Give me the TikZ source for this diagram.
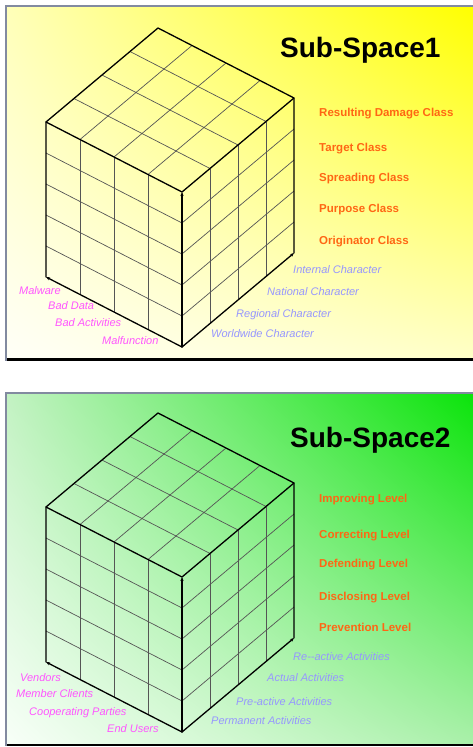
\documentclass[tikz,border=0pt]{standalone}
\usepackage{fontspec}
\setmainfont{Liberation Sans}
\usetikzlibrary{arrows.meta,shadings,calc}
\definecolor{orng}{RGB}{255,102,20}
\definecolor{lav}{RGB}{150,150,255}
\definecolor{pinkm}{RGB}{255,85,255}
\definecolor{framegray}{RGB}{130,138,160}
\definecolor{gridgray}{RGB}{85,85,85}
\definecolor{yUL}{RGB}{255,255,185}
\definecolor{yUR}{RGB}{255,255,0}
\definecolor{yLL}{RGB}{255,255,248}
\definecolor{yLR}{RGB}{255,255,200}
\definecolor{gUL}{RGB}{195,242,195}
\definecolor{gUR}{RGB}{10,228,10}
\definecolor{gLL}{RGB}{248,255,248}
\definecolor{gLR}{RGB}{170,240,170}
\begin{document}
\begin{tikzpicture}[x=1pt,y=-1pt,
  edge/.style={line width=1.3pt, black, line join=round, line cap=round},
  axisarrow/.style={edge,-{Stealth[length=4pt,width=3.2pt]}},
  gridl/.style={line width=0.7pt, gridgray},
  titletext/.style={anchor=base west, font=\fontsize{28}{30}\selectfont\bfseries, inner sep=0pt},
  cls/.style={anchor=base west, font=\fontsize{11.5}{13}\selectfont\bfseries, text=orng, inner sep=0pt},
  blu/.style={anchor=base west, font=\fontsize{11}{13}\selectfont\itshape, text=lav, inner sep=0pt},
  mag/.style={anchor=base west, font=\fontsize{11}{13}\selectfont\itshape, text=pinkm, inner sep=0pt}]
\useasboundingbox (0,0) rectangle (473,747);
\fill[white] (0,0) rectangle (473,747);
% panels
\shade[upper left=yUL, upper right=yUR, lower left=yLL, lower right=yLR] (6,6) rectangle (473,359);
\shade[upper left=gUL, upper right=gUR, lower left=gLL, lower right=gLR] (6,392.5) rectangle (473,744.5);
\draw[framegray, line width=2pt] (6,360.5) -- (6,6) -- (473,6);
\draw[black, line width=2.5pt] (7,359.5) -- (473,359.5);
\draw[framegray, line width=2pt] (6,746) -- (6,392.5) -- (473,392.5);
\draw[black, line width=2.2pt] (7,745) -- (473,745);
% cubes
\foreach \p/\dy in {a/0,b/385}{
\begin{scope}[shift={(0,\dy)}]
  \coordinate (\p T) at (158,28);
  \coordinate (\p L) at (46,122);
  \coordinate (\p R) at (294,98);
  \coordinate (\p F) at (182,192);
  \coordinate (\p BL) at (46,277);
  \coordinate (\p BF) at (182,347);
  \coordinate (\p BR) at (294,253);
  \foreach \i in {1,2,3}{
    \draw[gridl] ($(\p T)!\i/4!(\p L)$) -- ($(\p R)!\i/4!(\p F)$);
    \draw[gridl] ($(\p T)!\i/4!(\p R)$) -- ($(\p L)!\i/4!(\p F)$);
    \draw[gridl] ($(\p L)!\i/4!(\p F)$) -- ($(\p BL)!\i/4!(\p BF)$);
    \draw[gridl] ($(\p F)!\i/4!(\p R)$) -- ($(\p BF)!\i/4!(\p BR)$);
  }
  \foreach \j in {1,2,3,4}{
    \draw[gridl] ($(\p L)!\j/5!(\p BL)$) -- ($(\p F)!\j/5!(\p BF)$) -- ($(\p R)!\j/5!(\p BR)$);
  }
  \draw[edge] (\p BL) -- (\p L) -- (\p T) -- (\p R) -- (\p BR);
  \draw[edge] (\p L) -- (\p F) -- (\p R);
  \draw[axisarrow] (\p BF) -- (\p BL);
  \draw[axisarrow] (\p BF) -- (\p BR);
  \draw[axisarrow] (\p BF) -- (\p F);
\end{scope}
}
% top panel texts
\node[titletext] (t1) at (280,57) {Sub-Space1};
\node[cls] (c1) at (319,116.5) {Resulting Damage Class};
\node[cls] (c2) at (319,151) {Target Class};
\node[cls] (c3) at (319,181.5) {Spreading Class};
\node[cls] (c4) at (319,212.5) {Purpose Class};
\node[cls] (c5) at (319,244) {Originator Class};
\node[blu] (b1) at (293,273) {Internal Character};
\node[blu] (b2) at (267,295) {National Character};
\node[blu] (b3) at (236,317) {Regional Character};
\node[blu] (b4) at (211,337) {Worldwide Character};
\node[mag] (m1) at (19,294) {Malware};
\node[mag] (m2) at (48,309) {Bad Data};
\node[mag] (m3) at (55,326.5) {Bad Activities};
\node[mag] (m4) at (102,344) {Malfunction};
% bottom panel texts
\node[titletext] (t2) at (290,447) {Sub-Space2};
\node[cls] (d1) at (319,502) {Improving Level};
\node[cls] (d2) at (319,538) {Correcting Level};
\node[cls] (d3) at (319,567) {Defending Level};
\node[cls] (d4) at (319,600) {Disclosing Level};
\node[cls] (d5) at (319,631) {Prevention Level};
\node[blu] (e1) at (293,660) {Re-{}-active Activities};
\node[blu] (e2) at (267,681.5) {Actual Activities};
\node[blu] (e3) at (236,705) {Pre-active Activities};
\node[blu] (e4) at (211,724) {Permanent Activities};
\node[mag] (n1) at (20,681.5) {Vendors};
\node[mag] (n2) at (16,697) {Member Clients};
\node[mag] (n3) at (29,715) {Cooperating Parties};
\node[mag] (n4) at (107,732.5) {End Users};
\end{tikzpicture}
\end{document}
